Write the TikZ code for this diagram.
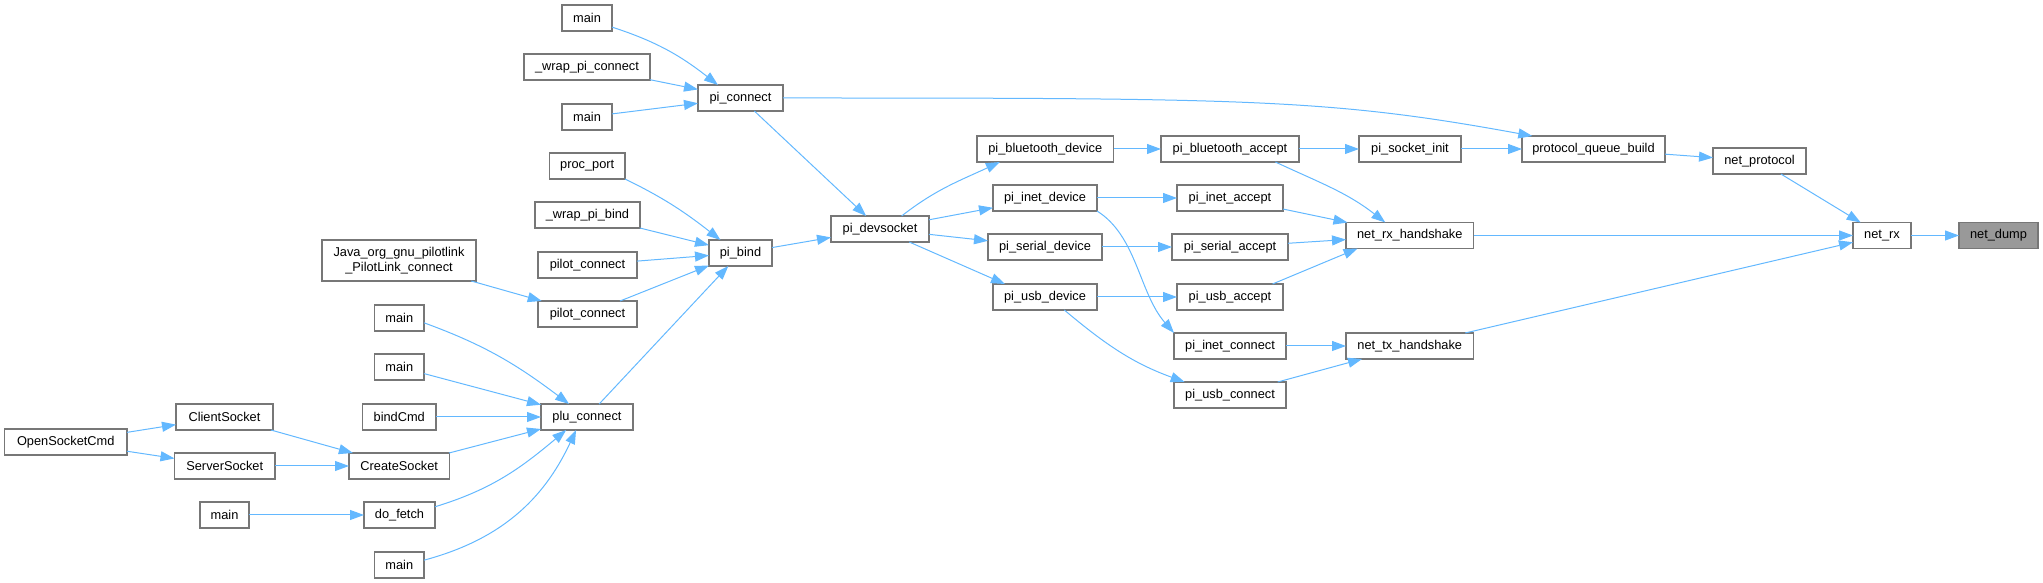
\documentclass[tikz,border=0pt]{standalone}
\usepackage{fontspec}
\setmainfont{Liberation Sans}
\usetikzlibrary{arrows.meta,calc}
\definecolor{edgeblue}{HTML}{63B8FF}
\definecolor{boxline}{HTML}{777777}
\definecolor{rootfill}{HTML}{999999}
\tikzset{
  box/.style={draw=boxline,line width=1.2pt,fill=white,inner sep=0pt,outer sep=0pt,
    font=\fontsize{12.8}{15}\selectfont,align=center,text=black},
  rootbox/.style={fill=rootfill},
  edge/.style={draw=edgeblue,line width=1pt,-{Triangle[length=14pt,width=10pt]}}
}
\newcommand\mkbox[7][]{%
  \pgfmathsetmacro\bcx{(#3+#4)/2}%
  \pgfmathsetmacro\bcy{583-(#5+#6)/2}%
  \pgfmathsetmacro\bw{#4-#3}%
  \pgfmathsetmacro\bh{#6-#5}%
  \node[box,#1,minimum width=\bw pt,minimum height=\bh pt] (#2) at (\bcx,\bcy) {#7};}
\begin{document}
\begin{tikzpicture}[x=1pt,y=1pt]
\useasboundingbox (0,0) rectangle (2043,583);
% nodes
\mkbox{osc}{4.5}{127}{429}{455}{OpenSocketCmd}
\mkbox{cls}{176}{273}{404}{430}{ClientSocket}
\mkbox{svs}{174.5}{275}{453}{479}{ServerSocket}
\mkbox{mdf}{200}{249}{502}{528}{main}
\mkbox{java}{322}{476}{240}{281}{Java\_org\_gnu\_pilotlink\\\_PilotLink\_connect}
\mkbox{mp1}{374.5}{424}{305}{331}{main}
\mkbox{mp2}{374.5}{424}{354}{380}{main}
\mkbox{bcmd}{362.5}{436}{404}{430}{bindCmd}
\mkbox{crs}{349}{449.5}{453}{479}{CreateSocket}
\mkbox{dft}{364}{435}{502}{528}{do\_fetch}
\mkbox{mp3}{374.5}{424}{552}{578}{main}
\mkbox{mc1}{562}{612}{5}{31}{main}
\mkbox{wpc}{524}{650}{54}{80}{\_wrap\_pi\_connect}
\mkbox{mc2}{562}{612}{104}{130}{main}
\mkbox{pp}{549.5}{625}{153}{179}{proc\_port}
\mkbox{wpb}{535}{640}{202}{228}{\_wrap\_pi\_bind}
\mkbox{plc1}{538}{637}{252}{278}{pilot\_connect}
\mkbox{plc2}{538}{637}{301}{327}{pilot\_connect}
\mkbox{plu}{541}{633}{404}{430}{plu\_connect}
\mkbox{pcon}{698}{783}{85}{111}{pi\_connect}
\mkbox{pib}{709}{772}{240}{266}{pi\_bind}
\mkbox{pds}{831}{929}{216}{242}{pi\_devsocket}
\mkbox{btd}{977}{1113.5}{136}{162}{pi\_bluetooth\_device}
\mkbox{ind}{993}{1097}{185}{211}{pi\_inet\_device}
\mkbox{srd}{988}{1102}{234}{260}{pi\_serial\_device}
\mkbox{usd}{993}{1097}{284}{310}{pi\_usb\_device}
\mkbox{bta}{1161}{1299}{136}{162}{pi\_bluetooth\_accept}
\mkbox{ina}{1177}{1283}{185}{211}{pi\_inet\_accept}
\mkbox{sra}{1172}{1288}{234}{260}{pi\_serial\_accept}
\mkbox{usa}{1177}{1283}{284}{310}{pi\_usb\_accept}
\mkbox{inc}{1174}{1286}{333}{359}{pi\_inet\_connect}
\mkbox{usc}{1174}{1286}{382}{408}{pi\_usb\_connect}
\mkbox{psi}{1359}{1461}{136}{162}{pi\_socket\_init}
\mkbox{nrh}{1346}{1473.5}{222.5}{248.5}{net\_rx\_handshake}
\mkbox{nth}{1346}{1473.5}{333}{359}{net\_tx\_handshake}
\mkbox{pqb}{1522}{1665}{136}{162}{protocol\_queue\_build}
\mkbox{npr}{1713}{1806}{148}{174}{net\_protocol}
\mkbox{nrx}{1853}{1911}{222.5}{248.5}{net\_rx}
\mkbox[rootbox]{ndp}{1959}{2038}{222.5}{248.5}{net\_dump}
% edges
\draw[edge] (mc1.-20) to[out=-18,in=142] (pcon.150);
\draw[edge] (wpc) -- (pcon);
\draw[edge] (mc2) -- (pcon);
\draw[edge] (pp.south east) to[out=-26,in=142] (pib.147);
\draw[edge] (wpb) -- (pib);
\draw[edge] (plc1) -- (pib);
\draw[edge] (plc2) -- (pib);
\draw[edge] (plu) -- (pib);
\draw[edge] (java) -- (plc2);
\draw[edge] (mp1.-11) to[out=-20,in=143] (plu.144);
\draw[edge] (mp2) -- (plu);
\draw[edge] (bcmd) -- (plu);
\draw[edge] (crs) -- (plu);
\draw[edge] (dft.13) to[out=17,in=-140] (plu.-148);
\draw[edge] (mp3.11) to[out=15,in=-115] (plu.-130);
\draw[edge] (osc) -- (cls);
\draw[edge] (osc) -- (svs);
\draw[edge] (cls) -- (crs);
\draw[edge] (svs) -- (crs);
\draw[edge] (mdf) -- (dft);
\draw[edge] (pcon) -- (pds);
\draw[edge] (pcon.east) .. controls +(467,0) and +(-202,37) .. (pqb.168);
\draw[edge] (pib) -- (pds);
\draw[edge] (pds.31) to[out=38,in=-155] (btd.-164);
\draw[edge] (pds) -- (ind);
\draw[edge] (pds) -- (srd);
\draw[edge] (pds.-24) -- (usd.162);
\draw[edge] (btd) -- (bta);
\draw[edge] (ind) -- (ina);
\draw[edge] (srd) -- (sra);
\draw[edge] (usd) -- (usa);
\draw[edge] (ind.south east) .. controls +(40,-25) and +(-35,40) .. (inc.north west);
\draw[edge] (usd.-34) to[out=-40,in=160] (usc.164);
\draw[edge] (bta) -- (psi);
\draw[edge] (bta.-16) to[out=-25,in=142] (nrh.152);
\draw[edge] (ina) -- (nrh);
\draw[edge] (sra) -- (nrh);
\draw[edge] (usa.17) -- (nrh.-166);
\draw[edge] (inc) -- (nth);
\draw[edge] (usc) -- (nth);
\draw[edge] (psi) -- (pqb);
\draw[edge] (pqb) -- (npr);
\draw[edge] (npr) -- (nrx);
\draw[edge] (nrh) -- (nrx);
\draw[edge] (nth) -- (nrx);
\draw[edge] (nrx) -- (ndp);
\end{tikzpicture}
\end{document}
